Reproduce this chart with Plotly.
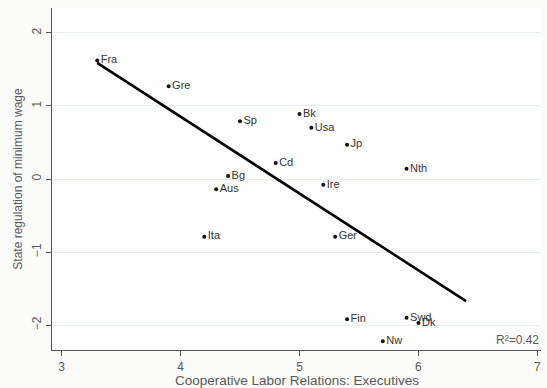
import plotly.graph_objects as go

# Country scores
countries = ["Fra", "Gre", "Sp", "Bg", "Aus", "Cd", "Bk", "Usa", "Jp", "Nth",
             "Ire", "Ita", "Ger", "Fin", "Swd", "Dk", "Nw"]
coop_exec = [3.3, 3.9, 4.5, 4.4, 4.3, 4.8, 5.0, 5.1, 5.4, 5.9,
             5.2, 4.2, 5.3, 5.4, 5.9, 6.0, 5.7]
min_wage_reg = [1.62, 1.27, 0.79, 0.04, -0.14, 0.22, 0.89, 0.70, 0.47, 0.14,
                -0.08, -0.79, -0.79, -1.92, -1.90, -1.97, -2.22]

# Fitted regression line
fit_x = [3.3, 6.4]
fit_y = [1.59, -1.67]
r_squared = 0.42

x_ticks = [3, 4, 5, 6, 7]
y_ticks = [-2, -1, 0, 1, 2]

x_title = "Cooperative Labor Relations: Executives"
y_title = "State regulation of minimum wage"

font_family = "Liberation Sans, Arial, sans-serif"
axis_grey = "#595959"

fig = go.Figure()

fig.add_trace(go.Scatter(
    x=coop_exec, y=min_wage_reg, mode="markers+text",
    text=countries, textposition="middle right",
    textfont=dict(family=font_family, size=11, color="#333333"),
    marker=dict(size=4, color="#111111"),
    cliponaxis=False, hoverinfo="text",
))

fig.add_trace(go.Scatter(
    x=fit_x, y=fit_y, mode="lines",
    line=dict(color="#000000", width=2.6),
    hoverinfo="skip",
))

fig.add_annotation(
    x=1, y=0, xref="paper", yref="paper", xanchor="right", yanchor="bottom",
    text=f"R²={r_squared:.2f}", showarrow=False,
    font=dict(family=font_family, size=12, color=axis_grey),
    yshift=1,
)

# x-axis title placed just beneath the tick labels
fig.add_annotation(
    x=0.5, y=0, xref="paper", yref="paper", xanchor="center", yanchor="middle",
    text=x_title, showarrow=False, yshift=-30,
    font=dict(family=font_family, size=13.5, color=axis_grey),
)

fig.update_layout(
    width=547, height=388,
    margin=dict(l=52, r=6, t=8, b=38),
    paper_bgcolor="#fbfbf9",
    plot_bgcolor="#ffffff",
    showlegend=False,
    font=dict(family=font_family, color=axis_grey),
)

fig.update_xaxes(
    range=[2.92, 7.03], tickvals=x_ticks, automargin=False,
    showgrid=False, zeroline=False,
    showline=True, linecolor="#555555", linewidth=1.2,
    ticks="outside", ticklen=5, tickcolor="#555555",
    tickfont=dict(family=font_family, size=12, color=axis_grey),
)

fig.update_yaxes(
    range=[-2.34, 2.34], tickvals=y_ticks, tickangle=-90, automargin=False,
    showgrid=True, gridcolor="#e6eff4", gridwidth=1,
    zeroline=False,
    showline=True, linecolor="#555555", linewidth=1.2,
    ticks="outside", ticklen=5, tickcolor="#555555",
    tickfont=dict(family=font_family, size=12, color=axis_grey),
    title=dict(text=y_title,
               font=dict(family=font_family, size=12, color=axis_grey),
               standoff=4),
)

fig.write_html("out.html")
